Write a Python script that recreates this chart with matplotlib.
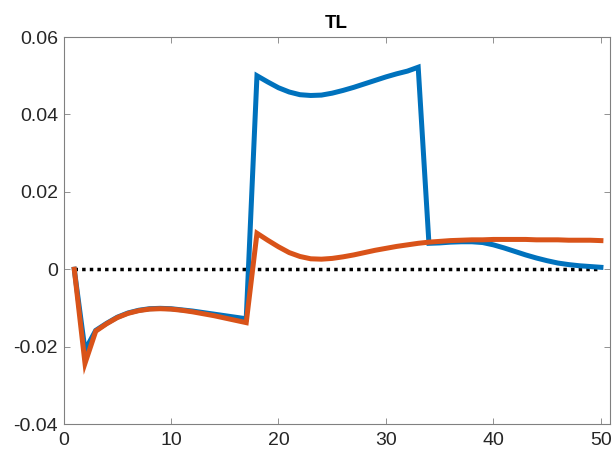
import matplotlib
matplotlib.use("Agg")
import matplotlib.pyplot as plt

x = list(range(1, 51))
blue = [0.0, -0.0209, -0.0158, -0.0140, -0.0124, -0.0113, -0.0106, -0.0102, -0.0101, -0.0102,
        -0.0105, -0.0108, -0.0112, -0.0116, -0.0120, -0.0124, -0.0128,
        0.0500, 0.0484, 0.0469, 0.0458, 0.0451, 0.0449, 0.0450, 0.0455, 0.0462, 0.0470,
        0.0479, 0.0488, 0.0497, 0.0505, 0.0512, 0.0522,
        0.0067, 0.0068, 0.0070, 0.0071, 0.0071, 0.0069, 0.0063, 0.0055, 0.0046, 0.0037,
        0.0029, 0.0022, 0.0016, 0.0012, 0.0009, 0.0007, 0.0005]
orange = [0.0, -0.0243, -0.0160, -0.0141, -0.0125, -0.0114, -0.0107, -0.0103, -0.0102, -0.0103,
          -0.0106, -0.0110, -0.0115, -0.0120, -0.0126, -0.0132, -0.0138,
          0.0093, 0.0075, 0.0058, 0.0043, 0.0033, 0.0027, 0.0026, 0.0028, 0.0032, 0.0037,
          0.0043, 0.0049, 0.0054, 0.0059, 0.0063, 0.0067, 0.0070, 0.0072, 0.0074, 0.0075,
          0.0076, 0.0076, 0.0077, 0.0077, 0.0077, 0.0077, 0.0076, 0.0076, 0.0076, 0.0075,
          0.0075, 0.0075, 0.0074]
zero = [0.0] * len(x)
xticks = [0, 10, 20, 30, 40, 50]
yticks = [-0.04, -0.02, 0, 0.02, 0.04, 0.06]
yticklabels = ["-0.04", "-0.02", "0", "0.02", "0.04", "0.06"]
title = "TL"

plt.rcParams["font.family"] = ["Liberation Sans", "DejaVu Sans"]

fig = plt.figure(figsize=(6.13, 4.54), dpi=100)
ax = fig.add_axes([0.1036, 0.066, 0.8907, 0.8524])
ax.plot(x, zero, color="black", linestyle=(0, (1, 1.2)), linewidth=2.5)
ax.plot(x, blue, color="#0072BD", linewidth=3.6, solid_joinstyle="miter")
ax.plot(x, orange, color="#D95319", linewidth=3.6, solid_joinstyle="miter")

ax.set_xlim(0, 50.8)
ax.set_ylim(-0.04, 0.06)
ax.set_xticks(xticks)
ax.set_yticks(yticks)
ax.set_yticklabels(yticklabels)
ax.tick_params(direction="in", top=True, right=True, length=4.5, width=0.6,
               colors="#808080", labelsize=14, labelcolor="#262626")
ax.tick_params(axis="x", pad=6)
ax.tick_params(axis="y", pad=4)
for s in ax.spines.values():
    s.set_color("#808080")
    s.set_linewidth(0.8)
ax.set_title(title, fontweight="bold", fontsize=13.5, pad=6.5)
fig.savefig("out.png", dpi=100)
